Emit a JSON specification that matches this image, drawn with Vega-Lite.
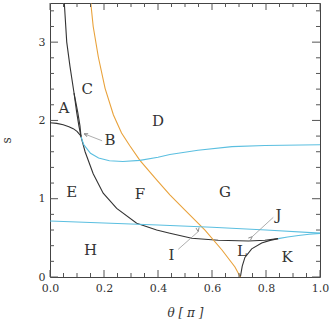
{
  "$schema": "https://vega.github.io/schema/vega-lite/v6.json",
  "width": 270,
  "height": 274,
  "autosize": {"type": "none"},
  "padding": {"left": 50, "top": 3, "right": 10, "bottom": 46},
  "config": {
    "view": {"stroke": "#444", "strokeWidth": 1},
    "font": "DejaVu Serif",
    "axis": {"grid": false, "domain": false, "labelFont": "DejaVu Serif", "labelFontSize": 11, "labelColor": "#333", "titleFont": "DejaVu Serif", "titleFontWeight": "normal", "titleColor": "#333", "titleFontSize": 12}
  },
  "datasets": {
    "xticks": [
      {"v": 0.0, "kind": "major"}, {"v": 0.05, "kind": "minor"}, {"v": 0.1, "kind": "minor"}, {"v": 0.15, "kind": "minor"},
      {"v": 0.2, "kind": "major"}, {"v": 0.25, "kind": "minor"}, {"v": 0.3, "kind": "minor"}, {"v": 0.35, "kind": "minor"},
      {"v": 0.4, "kind": "major"}, {"v": 0.45, "kind": "minor"}, {"v": 0.5, "kind": "minor"}, {"v": 0.55, "kind": "minor"},
      {"v": 0.6, "kind": "major"}, {"v": 0.65, "kind": "minor"}, {"v": 0.7, "kind": "minor"}, {"v": 0.75, "kind": "minor"},
      {"v": 0.8, "kind": "major"}, {"v": 0.85, "kind": "minor"}, {"v": 0.9, "kind": "minor"}, {"v": 0.95, "kind": "minor"},
      {"v": 1.0, "kind": "major"}
    ],
    "yticks": [
      {"v": 0.0, "kind": "major"}, {"v": 0.2, "kind": "minor"}, {"v": 0.4, "kind": "minor"}, {"v": 0.6, "kind": "minor"}, {"v": 0.8, "kind": "minor"},
      {"v": 1.0, "kind": "major"}, {"v": 1.2, "kind": "minor"}, {"v": 1.4, "kind": "minor"}, {"v": 1.6, "kind": "minor"}, {"v": 1.8, "kind": "minor"},
      {"v": 2.0, "kind": "major"}, {"v": 2.2, "kind": "minor"}, {"v": 2.4, "kind": "minor"}, {"v": 2.6, "kind": "minor"}, {"v": 2.8, "kind": "minor"},
      {"v": 3.0, "kind": "major"}, {"v": 3.2, "kind": "minor"}, {"v": 3.4, "kind": "minor"}
    ],
    "curves": [
      {"curve": "k1", "family": "a", "x": 0.053, "y": 3.5},
      {"curve": "k1", "family": "a", "x": 0.062, "y": 3.0},
      {"curve": "k1", "family": "a", "x": 0.074, "y": 2.69},
      {"curve": "k1", "family": "a", "x": 0.089, "y": 2.35},
      {"curve": "k1", "family": "a", "x": 0.099, "y": 2.1},
      {"curve": "k1", "family": "a", "x": 0.107, "y": 1.93},
      {"curve": "k1", "family": "a", "x": 0.115, "y": 1.79},
      {"curve": "k1", "family": "a", "x": 0.13, "y": 1.6},
      {"curve": "k1", "family": "a", "x": 0.16, "y": 1.32},
      {"curve": "k1", "family": "a", "x": 0.197, "y": 1.07},
      {"curve": "k1", "family": "a", "x": 0.247, "y": 0.877},
      {"curve": "k1", "family": "a", "x": 0.321, "y": 0.686},
      {"curve": "k1", "family": "a", "x": 0.395, "y": 0.6},
      {"curve": "k1", "family": "a", "x": 0.444, "y": 0.558},
      {"curve": "k1", "family": "a", "x": 0.525, "y": 0.494},
      {"curve": "k1", "family": "a", "x": 0.623, "y": 0.47},
      {"curve": "k1", "family": "a", "x": 0.735, "y": 0.46},
      {"curve": "k1", "family": "a", "x": 0.796, "y": 0.47},
      {"curve": "k1", "family": "a", "x": 0.845, "y": 0.49},
      {"curve": "k2", "family": "a", "x": 0.089, "y": 2.35},
      {"curve": "k2", "family": "a", "x": 0.103, "y": 2.1},
      {"curve": "k2", "family": "a", "x": 0.111, "y": 1.93},
      {"curve": "k2", "family": "a", "x": 0.115, "y": 1.79},
      {"curve": "k3", "family": "a", "x": 0.0, "y": 1.97},
      {"curve": "k3", "family": "a", "x": 0.025, "y": 1.962},
      {"curve": "k3", "family": "a", "x": 0.049, "y": 1.945},
      {"curve": "k3", "family": "a", "x": 0.07, "y": 1.92},
      {"curve": "k3", "family": "a", "x": 0.086, "y": 1.895},
      {"curve": "k3", "family": "a", "x": 0.1, "y": 1.86},
      {"curve": "k3", "family": "a", "x": 0.115, "y": 1.8},
      {"curve": "k4", "family": "a", "x": 0.705, "y": 0.0},
      {"curve": "k4", "family": "a", "x": 0.712, "y": 0.14},
      {"curve": "k4", "family": "a", "x": 0.722, "y": 0.25},
      {"curve": "k4", "family": "a", "x": 0.747, "y": 0.36},
      {"curve": "k4", "family": "a", "x": 0.784, "y": 0.435},
      {"curve": "k4", "family": "a", "x": 0.815, "y": 0.468},
      {"curve": "k4", "family": "a", "x": 0.845, "y": 0.49},
      {"curve": "o1", "family": "b", "x": 0.151, "y": 3.5},
      {"curve": "o1", "family": "b", "x": 0.16, "y": 3.2},
      {"curve": "o1", "family": "b", "x": 0.179, "y": 2.81},
      {"curve": "o1", "family": "b", "x": 0.204, "y": 2.41},
      {"curve": "o1", "family": "b", "x": 0.235, "y": 2.07},
      {"curve": "o1", "family": "b", "x": 0.265, "y": 1.84},
      {"curve": "o1", "family": "b", "x": 0.295, "y": 1.68},
      {"curve": "o1", "family": "b", "x": 0.333, "y": 1.49},
      {"curve": "o1", "family": "b", "x": 0.395, "y": 1.24},
      {"curve": "o1", "family": "b", "x": 0.444, "y": 1.05},
      {"curve": "o1", "family": "b", "x": 0.5, "y": 0.855},
      {"curve": "o1", "family": "b", "x": 0.574, "y": 0.6},
      {"curve": "o1", "family": "b", "x": 0.637, "y": 0.345},
      {"curve": "o1", "family": "b", "x": 0.685, "y": 0.128},
      {"curve": "o1", "family": "b", "x": 0.705, "y": 0.0},
      {"curve": "c1", "family": "c", "x": 0.115, "y": 1.79},
      {"curve": "c1", "family": "c", "x": 0.125, "y": 1.69},
      {"curve": "c1", "family": "c", "x": 0.15, "y": 1.58},
      {"curve": "c1", "family": "c", "x": 0.18, "y": 1.52},
      {"curve": "c1", "family": "c", "x": 0.22, "y": 1.485},
      {"curve": "c1", "family": "c", "x": 0.27, "y": 1.475},
      {"curve": "c1", "family": "c", "x": 0.333, "y": 1.49},
      {"curve": "c1", "family": "c", "x": 0.4, "y": 1.53},
      {"curve": "c1", "family": "c", "x": 0.444, "y": 1.565},
      {"curve": "c1", "family": "c", "x": 0.548, "y": 1.62},
      {"curve": "c1", "family": "c", "x": 0.674, "y": 1.665},
      {"curve": "c1", "family": "c", "x": 0.796, "y": 1.68},
      {"curve": "c1", "family": "c", "x": 1.0, "y": 1.69},
      {"curve": "c2", "family": "c", "x": 0.0, "y": 0.715},
      {"curve": "c2", "family": "c", "x": 0.2, "y": 0.69},
      {"curve": "c2", "family": "c", "x": 0.4, "y": 0.665},
      {"curve": "c2", "family": "c", "x": 0.6, "y": 0.635},
      {"curve": "c2", "family": "c", "x": 0.8, "y": 0.6},
      {"curve": "c2", "family": "c", "x": 1.0, "y": 0.56},
      {"curve": "c3", "family": "c", "x": 0.845, "y": 0.49},
      {"curve": "c3", "family": "c", "x": 0.88, "y": 0.51},
      {"curve": "c3", "family": "c", "x": 0.92, "y": 0.53},
      {"curve": "c3", "family": "c", "x": 0.96, "y": 0.547},
      {"curve": "c3", "family": "c", "x": 1.0, "y": 0.557}
    ],
    "labels": [
      {"t": "A", "x": 0.052, "y": 2.16},
      {"t": "B", "x": 0.222, "y": 1.75},
      {"t": "C", "x": 0.138, "y": 2.4},
      {"t": "D", "x": 0.4, "y": 1.99},
      {"t": "E", "x": 0.08, "y": 1.09},
      {"t": "F", "x": 0.333, "y": 1.06},
      {"t": "G", "x": 0.648, "y": 1.09},
      {"t": "H", "x": 0.15, "y": 0.345},
      {"t": "I", "x": 0.45, "y": 0.28},
      {"t": "J", "x": 0.846, "y": 0.79},
      {"t": "K", "x": 0.878, "y": 0.255},
      {"t": "L", "x": 0.711, "y": 0.33}
    ],
    "arrows": [
      {"id": "B", "x": 0.193, "y": 1.74, "x2": 0.126, "y2": 1.83},
      {"id": "I", "x": 0.475, "y": 0.354, "x2": 0.549, "y2": 0.58},
      {"id": "J", "x": 0.827, "y": 0.762, "x2": 0.749, "y2": 0.515}
    ]
  },
  "layer": [
    {
      "data": {"name": "curves"},
      "mark": {"type": "line", "strokeWidth": 1.1, "clip": true},
      "encoding": {
        "x": {"field": "x", "type": "quantitative", "scale": {"domain": [0, 1], "nice": false, "zero": false},
          "axis": {"orient": "bottom", "ticks": false, "title": "θ [ π ]", "titleFontStyle": "italic", "titlePadding": 14, "values": [0, 0.2, 0.4, 0.6, 0.8, 1.0], "format": ".1f",
            "labelPadding": 5, "labelFlush": false}},
        "y": {"field": "y", "type": "quantitative", "scale": {"domain": [0, 3.5], "nice": false, "zero": false},
          "axis": {"orient": "left", "ticks": false, "title": "s", "titlePadding": 25, "values": [0, 1, 2, 3], "format": "d",
            "labelPadding": 5, "labelFlush": false}},
        "color": {"field": "family", "type": "nominal", "scale": {"domain": ["a", "b", "c"], "range": ["#333333", "#E9A23B", "#5BBFE0"]}, "legend": null},
        "detail": {"field": "curve"}
      }
    },
    {
      "data": {"name": "xticks"},
      "transform": [{"filter": "datum.kind == 'major'"}],
      "mark": {"type": "rule", "color": "#555", "strokeWidth": 1, "y2Offset": -7},
      "encoding": {"x": {"field": "v", "type": "quantitative"}, "y": {"datum": 0, "type": "quantitative"}, "y2": {"datum": 0}}
    },
    {
      "data": {"name": "xticks"},
      "transform": [{"filter": "datum.kind == 'minor'"}],
      "mark": {"type": "rule", "color": "#555", "strokeWidth": 1, "y2Offset": -4},
      "encoding": {"x": {"field": "v", "type": "quantitative"}, "y": {"datum": 0, "type": "quantitative"}, "y2": {"datum": 0}}
    },
    {
      "data": {"name": "xticks"},
      "transform": [{"filter": "datum.kind == 'major'"}],
      "mark": {"type": "rule", "color": "#555", "strokeWidth": 1, "y2Offset": 7},
      "encoding": {"x": {"field": "v", "type": "quantitative"}, "y": {"datum": 3.5, "type": "quantitative"}, "y2": {"datum": 3.5}}
    },
    {
      "data": {"name": "xticks"},
      "transform": [{"filter": "datum.kind == 'minor'"}],
      "mark": {"type": "rule", "color": "#555", "strokeWidth": 1, "y2Offset": 4},
      "encoding": {"x": {"field": "v", "type": "quantitative"}, "y": {"datum": 3.5, "type": "quantitative"}, "y2": {"datum": 3.5}}
    },
    {
      "data": {"name": "yticks"},
      "transform": [{"filter": "datum.kind == 'major'"}],
      "mark": {"type": "rule", "color": "#555", "strokeWidth": 1, "x2Offset": 8},
      "encoding": {"y": {"field": "v", "type": "quantitative"}, "x": {"datum": 0, "type": "quantitative"}, "x2": {"datum": 0}}
    },
    {
      "data": {"name": "yticks"},
      "transform": [{"filter": "datum.kind == 'minor'"}],
      "mark": {"type": "rule", "color": "#555", "strokeWidth": 1, "x2Offset": 4},
      "encoding": {"y": {"field": "v", "type": "quantitative"}, "x": {"datum": 0, "type": "quantitative"}, "x2": {"datum": 0}}
    },
    {
      "data": {"name": "yticks"},
      "transform": [{"filter": "datum.kind == 'major'"}],
      "mark": {"type": "rule", "color": "#555", "strokeWidth": 1, "x2Offset": -8},
      "encoding": {"y": {"field": "v", "type": "quantitative"}, "x": {"datum": 1, "type": "quantitative"}, "x2": {"datum": 1}}
    },
    {
      "data": {"name": "yticks"},
      "transform": [{"filter": "datum.kind == 'minor'"}],
      "mark": {"type": "rule", "color": "#555", "strokeWidth": 1, "x2Offset": -4},
      "encoding": {"y": {"field": "v", "type": "quantitative"}, "x": {"datum": 1, "type": "quantitative"}, "x2": {"datum": 1}}
    },
    {
      "data": {"name": "labels"},
      "mark": {"type": "text", "font": "DejaVu Serif", "fontSize": 15, "color": "#333", "align": "center", "baseline": "middle"},
      "encoding": {
        "x": {"field": "x", "type": "quantitative"},
        "y": {"field": "y", "type": "quantitative"},
        "text": {"field": "t"}
      }
    },
    {
      "data": {"name": "arrows"},
      "mark": {"type": "rule", "color": "#999", "strokeWidth": 0.8},
      "encoding": {
        "x": {"field": "x", "type": "quantitative"},
        "y": {"field": "y", "type": "quantitative"},
        "x2": {"field": "x2"},
        "y2": {"field": "y2"}
      }
    },
    {
      "data": {"name": "arrows"},
      "mark": {"type": "point", "shape": "M0,0 L-0.4,1 M0,0 L0.4,1", "filled": false, "color": "#888", "strokeWidth": 0.9, "size": 60, "opacity": 1},
      "encoding": {
        "x": {"field": "x2", "type": "quantitative"},
        "y": {"field": "y2", "type": "quantitative"},
        "angle": {"field": "id", "type": "nominal", "scale": {"domain": ["B", "I", "J"], "range": [291, 48.6, 227.3]}, "legend": null}
      }
    }
  ]
}
